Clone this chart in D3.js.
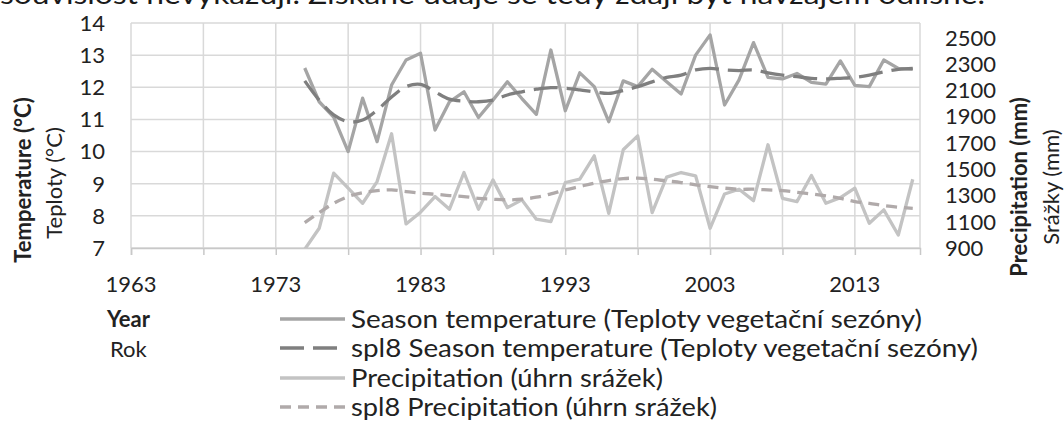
<!DOCTYPE html>
<html>
<head>
<meta charset="utf-8">
<script src="https://cdn.jsdelivr.net/npm/d3@7"></script>
<style>
  body { margin: 0; background: #fff; }
  svg { display: block; font-family: Lato, "Noto Sans", sans-serif; }
</style>
</head>
<body>
<div id="graphHolder"></div>
<script>
var years = [1975, 1976, 1977, 1978, 1979, 1980, 1981, 1982, 1983, 1984,
    1985, 1986, 1987, 1988, 1989, 1990, 1991, 1992, 1993, 1994,
    1995, 1996, 1997, 1998, 1999, 2000, 2001, 2002, 2003, 2004,
    2005, 2006, 2007, 2008, 2009, 2010, 2011, 2012, 2013, 2014,
    2015, 2016, 2017];

var seasonTemp = [12.6, 11.55, 11.07, 10.0, 11.66, 10.31, 12.07, 12.85, 13.06, 10.67,
    11.55, 11.86, 11.06, 11.6, 12.17, 11.65, 11.16, 13.16, 11.27, 12.45,
    12.02, 10.93, 12.2, 12.02, 12.56, 12.17, 11.79, 13.0, 13.63, 11.45,
    12.23, 13.39, 12.31, 12.26, 12.43, 12.15, 12.1, 12.82, 12.06, 12.02,
    12.85, 12.59, 12.56];

var splTemp = [12.2, 11.6, 11.14, 10.93, 10.98, 11.29, 11.7, 12.02, 12.09, 11.86,
    11.63, 11.57, 11.55, 11.6, 11.76, 11.86, 11.94, 11.99, 11.97, 11.92,
    11.86, 11.81, 11.9, 12.02, 12.17, 12.31, 12.38, 12.54, 12.59, 12.54,
    12.52, 12.54, 12.45, 12.38, 12.33, 12.28, 12.26, 12.28, 12.31, 12.38,
    12.48, 12.56, 12.59];

var precip = [890, 1050, 1469, 1355, 1240, 1405, 1769, 1083, 1172, 1291,
    1195, 1474, 1195, 1418, 1207, 1266, 1119, 1100, 1398, 1423,
    1601, 1164, 1647, 1753, 1169, 1439, 1474, 1449, 1050, 1311,
    1347, 1260, 1685, 1278, 1253, 1451, 1240, 1283, 1355, 1088,
    1190, 999, 1423];

var splPrecip = [1093, 1169, 1240, 1291, 1321, 1337, 1342, 1329, 1317, 1309,
    1299, 1291, 1278, 1271, 1266, 1271, 1286, 1311, 1342, 1367,
    1393, 1413, 1428, 1431, 1423, 1410, 1398, 1380, 1367, 1355,
    1347, 1347, 1342, 1337, 1324, 1311, 1296, 1278, 1253, 1240,
    1222, 1210, 1202];

var xTicks = [1963, 1973, 1983, 1993, 2003, 2013];
var xGrid = [1963, 1968, 1973, 1978, 1983, 1988, 1993, 1998, 2003, 2008, 2013];
var leftTicks = [7, 8, 9, 10, 11, 12, 13, 14];
var rightTicks = [900, 1100, 1300, 1500, 1700, 1900, 2100, 2300, 2500];

var legendLabels = ["Season temperature (Teploty vegetační sezóny)",
    "spl8 Season temperature (Teploty vegetační sezóny)",
    "Precipitation (úhrn srážek)",
    "spl8 Precipitation (úhrn srážek)"];

var topText = "souvislost nevykazují. Získané údaje se tedy zdají být navzájem odlišné.";

var W = 1064, H = 426;
var pL = 131, pR = 920, pT = 23, pB = 248;

var svg = d3.select("#graphHolder").append("svg")
        .attr("width", W).attr("height", H);

// fit a text to the width measured on the picture
function squeeze(sel, target, always) {
    sel.each(function () {
        var w = this.getComputedTextLength();
        if (always || w > target) {
            d3.select(this).attr("textLength", target)
                    .attr("lengthAdjust", "spacingAndGlyphs");
        }
    });
}

var x = d3.scaleLinear().domain([1963, 2017.5]).range([pL, pR]);
var yL = d3.scaleLinear().domain([7, 14]).range([pB, pT]);
var yR = d3.scaleLinear().domain([900, 2611]).range([pB, pT]);

// clipped body text above the chart
var tt = svg.append("text").attr("x", 0).attr("y", 4)
        .attr("font-size", 27).attr("fill", "#1a1a1a").text(topText);
squeeze(tt, 985, true);

// grid
var grid = svg.append("g").attr("stroke", "#d9d9d9").attr("stroke-width", 1.5);
grid.selectAll(".h").data(leftTicks).enter().append("line")
        .attr("x1", pL).attr("x2", pR)
        .attr("y1", function (d) { return yL(d); })
        .attr("y2", function (d) { return yL(d); });
grid.selectAll(".v").data(xGrid).enter().append("line")
        .attr("x1", function (d) { return x(d); })
        .attr("x2", function (d) { return x(d); })
        .attr("y1", pT).attr("y2", pB);
grid.append("line").attr("x1", pR).attr("x2", pR).attr("y1", pT).attr("y2", pB);

// bottom axis
var xAxis = svg.append("g")
        .attr("transform", "translate(0," + pB + ")")
        .call(d3.axisBottom(x).tickValues(xGrid).tickSize(7).tickFormat(""));
xAxis.select(".domain").attr("stroke", "#c8c8c8").attr("stroke-width", 1.5);
xAxis.selectAll(".tick line").attr("stroke", "#c8c8c8").attr("stroke-width", 1.5);

var tickFs = 22;
var xl = svg.append("g").selectAll("text").data(xTicks).enter().append("text")
        .attr("x", function (d) { return x(d); })
        .attr("y", 292)
        .attr("text-anchor", "middle")
        .attr("font-size", tickFs).attr("fill", "#222")
        .text(function (d) { return d; });
squeeze(xl, 51);

var ll = svg.append("g").selectAll("text").data(leftTicks).enter().append("text")
        .attr("x", 105)
        .attr("y", function (d) { return yL(d); })
        .attr("dy", "0.36em")
        .attr("text-anchor", "end")
        .attr("font-size", tickFs).attr("fill", "#222")
        .text(function (d) { return d; });
squeeze(ll, 26);

var rl = svg.append("g").selectAll("text").data(rightTicks).enter().append("text")
        .attr("x", 945)
        .attr("y", function (d) { return yR(d); })
        .attr("dy", "0.36em")
        .attr("font-size", tickFs).attr("fill", "#222")
        .text(function (d) { return d; });
squeeze(rl.filter(function (d) { return d >= 1000; }), 53);
squeeze(rl.filter(function (d) { return d < 1000; }), 40);

// axis titles
function vTitle(cx, cy, txt, bold, len) {
    var t = svg.append("text")
            .attr("transform", "translate(" + cx + "," + cy + ") rotate(-90)")
            .attr("text-anchor", "middle")
            .attr("dy", "0.36em")
            .attr("font-size", 22)
            .attr("font-weight", bold ? "bold" : "normal")
            .attr("fill", "#222")
            .text(txt);
    squeeze(t, len);
}
vTitle(23, 180, "Temperature (°C)", true, 180);
vTitle(54, 183, "Teploty (°C)", false, 130);
vTitle(1019, 187, "Precipitation (mm)", true, 205);
vTitle(1051, 187, "Srážky (mm)", false, 129);

// series
svg.append("clipPath").attr("id", "clip").append("rect")
        .attr("x", pL).attr("y", pT)
        .attr("width", pR - pL).attr("height", pB - pT);

var plot = svg.append("g").attr("clip-path", "url(#clip)");

function seriesLine(vals, yScale, curve) {
    return d3.line()
            .x(function (d, i) { return x(years[i]); })
            .y(function (d) { return yScale(d); })
            .curve(curve)(vals);
}

var styles = [
    {color: "#a5a5a5", dash: null},
    {color: "#7f7f7f", dash: "24,9"},
    {color: "#c3c3c3", dash: null},
    {color: "#b0aaaa", dash: "11,7"}
];

plot.append("path")
        .attr("d", seriesLine(precip, yR, d3.curveLinear))
        .attr("fill", "none").attr("stroke", styles[2].color)
        .attr("stroke-width", 3.3).attr("stroke-linejoin", "round");
plot.append("path")
        .attr("d", seriesLine(splPrecip, yR, d3.curveCatmullRom))
        .attr("fill", "none").attr("stroke", styles[3].color)
        .attr("stroke-width", 3.3).attr("stroke-dasharray", styles[3].dash);
plot.append("path")
        .attr("d", seriesLine(seasonTemp, yL, d3.curveLinear))
        .attr("fill", "none").attr("stroke", styles[0].color)
        .attr("stroke-width", 3.3).attr("stroke-linejoin", "round");
plot.append("path")
        .attr("d", seriesLine(splTemp, yL, d3.curveCatmullRom))
        .attr("fill", "none").attr("stroke", styles[1].color)
        .attr("stroke-width", 3.3).attr("stroke-dasharray", styles[1].dash);

// x axis title
var yt = svg.append("text").attr("x", 107).attr("y", 319).attr("dy", "0.36em")
        .attr("font-size", 22).attr("font-weight", "bold").attr("fill", "#222")
        .text("Year");
squeeze(yt, 48);
var rk = svg.append("text").attr("x", 110).attr("y", 349).attr("dy", "0.36em")
        .attr("font-size", 22).attr("fill", "#222")
        .text("Rok");
squeeze(rk, 37);

// legend
var rowY = [319, 348, 378, 407];
var lg = svg.append("g");
var items = lg.selectAll("g").data(legendLabels).enter().append("g")
        .attr("transform", function (d, i) { return "translate(0," + rowY[i] + ")"; });
items.append("line")
        .attr("x1", 280).attr("x2", 345)
        .attr("stroke", function (d, i) { return styles[i].color; })
        .attr("stroke-width", 3.3)
        .attr("stroke-dasharray", function (d, i) { return styles[i].dash; });
var legendW = [571, 627, 312, 366];
var lt = items.append("text")
        .attr("x", 351).attr("dy", "0.36em")
        .attr("font-size", 25).attr("fill", "#222")
        .text(function (d) { return d; });
lt.each(function (d, i) { squeeze(d3.select(this), legendW[i], true); });
</script>
</body>
</html>
